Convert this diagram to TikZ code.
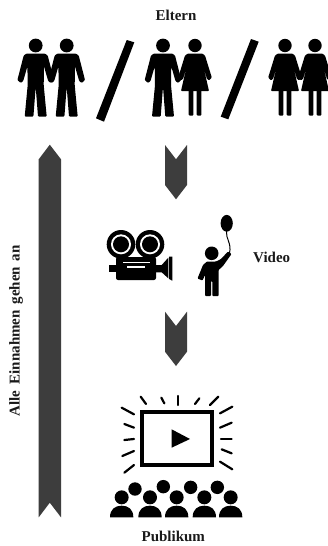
\documentclass[tikz,border=0pt]{standalone}
\usepackage{fontspec}
\setmainfont{Liberation Serif}
\definecolor{arrowgrey}{HTML}{3D3D3D}
\tikzset{
  label text/.style={font=\bfseries\fontsize{15}{17}\selectfont,inner sep=0pt,text=black!90},
  glyph/.style={fill=black,draw=none},
  ray/.style={draw=black,line width=2.2pt,line cap=round},
  flow/.style={fill=arrowgrey,draw=none}
}
\newcommand{\manfig}[1]{%
  \begin{scope}[shift={(#1,0)}]
    \fill[glyph] (0,45.5) circle[radius=6.9pt];
    \fill[glyph,rounded corners=.8pt] (-9,53.5) -- (9,53.5) -- (12,55.5) -- (18.3,80) -- (15,83) -- (12.5,81) -- (8.3,66.5) -- (8,85)
      -- (11,116.5) -- (2.3,116.5) -- (0,87) -- (-2.3,116.5) -- (-11,116.5) -- (-8,85) -- (-8.3,66.5) -- (-12.5,81) -- (-15,83) -- (-18.3,80) -- (-12,55.5) -- cycle;
  \end{scope}}
\newcommand{\womanfig}[1]{%
  \begin{scope}[shift={(#1,0)}]
    \fill[glyph] (0,45.5) circle[radius=6.7pt];
    \fill[glyph,rounded corners=.8pt] (-7,53.5) -- (7,53.5) -- (10,55.5) -- (16.8,77.5) -- (13.8,80.5) -- (11.8,78.5) -- (7.8,64) -- (14,91) -- (-14,91) -- (-7.8,64) -- (-11.8,78.5) -- (-13.8,80.5) -- (-16.8,77.5) -- (-10,55.5) -- cycle;
    \fill[glyph,rounded corners=.8pt] (-6.3,90) rectangle (-1.7,115.5);
    \fill[glyph,rounded corners=.8pt] (1.7,90) rectangle (6.3,115.5);
  \end{scope}}
\newcommand{\downflow}[1]{%
  \fill[flow] (165,#1) -- (176,#1+14.3) -- (187,#1) -- (187,#1+40) -- (176,#1+54.3) -- (165,#1+40) -- cycle;}
\begin{document}
\begin{tikzpicture}[x=1pt,y=-1pt]
\useasboundingbox (0,0) rectangle (327,546);
\fill[white] (0,0) rectangle (327,546);
\node[label text] (eltern) at (176,15.5) {Eltern};
\node[label text] (video) at (271.7,257) {Video};
\node[label text] (publikum) at (173.3,536.5) {Publikum};
\node[label text,rotate=90] (einnahmen) at (16,331) {Alle\hspace{3pt} Einnahmen\hspace{2pt} gehen\hspace{2pt} an};
% couples
\manfig{35.7}\manfig{66.7}
\manfig{163}\womanfig{195}
\womanfig{285}\womanfig{315}
\fill[glyph] (126.7,40) -- (134.3,42.3) -- (104,121.7) -- (96,118.3) -- cycle;
\fill[glyph] (251,39) -- (258.7,41.7) -- (228.3,119.3) -- (220.7,116.7) -- cycle;
% flows
\fill[flow] (38.7,159.3) -- (49.8,144.7) -- (61,159.3) -- (61,517.3) -- (49.8,502.7) -- (38.7,517.3) -- cycle;
\downflow{145}
\downflow{311.7}
% camera
\foreach \cx in {121,150}{
  \fill[glyph] (\cx,244.3) circle[radius=14.3pt];
  \fill[white] (\cx,244.3) circle[radius=10pt];
  \fill[glyph] (\cx,244.3) circle[radius=8pt];
}
\fill[glyph,rounded corners=2pt] (116,257) rectangle (156,280);
\fill[glyph] (109.3,265) rectangle (117,271.7);
\fill[glyph] (155,265) -- (161.7,265) -- (168.3,257.7) -- (168.3,278.3) -- (161.7,272.3) -- (155,272.3) -- cycle;
\fill[glyph] (169.2,256.7) -- (172.3,256.7) -- (172.3,280.7) -- (169.2,279) -- cycle;
\fill[white] (123.3,261.7) rectangle (150,263.3);
\fill[white] (126.7,266) rectangle (145,268);
% child with balloon
\fill[glyph] (211.7,253.3) circle[radius=6.8pt];
\fill[glyph] (226.7,223.3) ellipse[x radius=6.1pt,y radius=8.4pt];
\draw[black,line width=1pt] (226.7,231) .. controls (225,238) and (232,243) .. (229.5,253);
\fill[glyph,rounded corners=.8pt] (207,261.5) -- (216,261.5) -- (221,259) -- (228,251.5) -- (231.5,254) -- (223,266) -- (218.6,270) -- (218.6,296) -- (212.3,296) -- (212.3,281) -- (211,281) -- (211,296) -- (205,296) -- (205,275) -- (202.5,280.5) -- (197.5,278.5) -- (203,265) -- cycle;
% screen
\begin{scope}[shift={(90,380)},x=.33333pt,y=-.33333pt]
  \draw[black,line width=4pt] (156,96) rectangle (367,256);
  \fill[glyph] (245,148) -- (300,177) -- (245,203) -- cycle;
  \foreach \a/\b/\c/\d in {152/50/168/72,214/53/223/70,265/48/265/75,328/55/315/72,385/50/360/75,
    95/83/132/103,103/132/132/143,103/180/132/177,97/228/132/213,103/278/132/255,
    390/100/427/80,390/143/425/128,393/177/425/177,395/208/425/220,390/245/427/268}{
    \draw[ray] (\a,\b) -- (\c,\d);
  }
\end{scope}
% audience
\begin{scope}[shift={(100,470)},x=.33333pt,y=-.33333pt]
  \foreach \hx/\hy in {105/57,190/50,272/52,352/52}{
    \fill[glyph] (\hx,\hy) circle[radius=6.7pt];
  }
  \foreach \hx in {65,150,230,313,392}{
    \fill[glyph] (\hx,82) circle[radius=7pt];
    \fill[glyph] (\hx-35,142) .. controls (\hx-35,118) and (\hx-20,107) .. (\hx,107) .. controls (\hx+20,107) and (\hx+35,118) .. (\hx+35,142) -- cycle;
  }
\end{scope}
\end{tikzpicture}
\end{document}
